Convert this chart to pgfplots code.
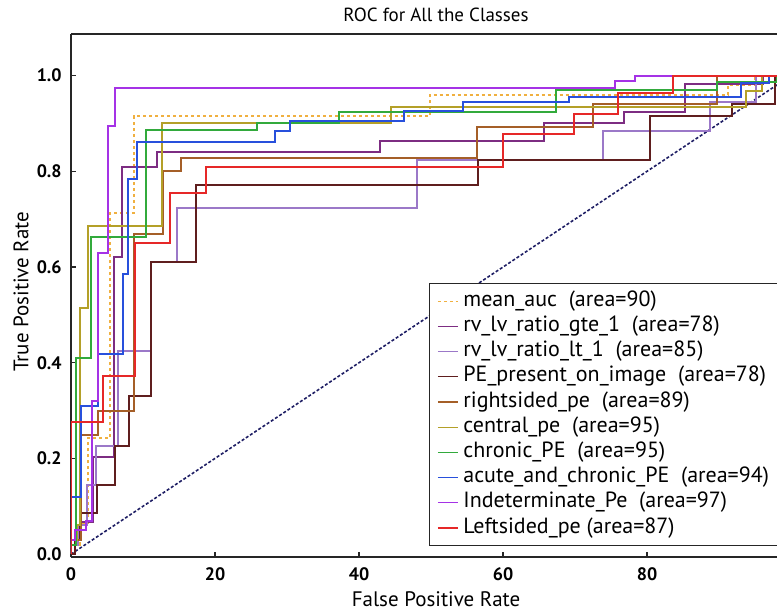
\documentclass[border=0pt]{standalone}
\usepackage{pgfplots}
\pgfplotsset{compat=1.18}
\usepackage{fontspec}
\setmainfont{PT Sans}

\definecolor{cmean}{RGB}{240,176,64}
\definecolor{cgte}{RGB}{125,45,130}
\definecolor{clt}{RGB}{155,120,200}
\definecolor{cpres}{RGB}{95,30,30}
\definecolor{cright}{RGB}{165,95,40}
\definecolor{ccentral}{RGB}{180,160,40}
\definecolor{cchronic}{RGB}{50,170,60}
\definecolor{cacute}{RGB}{40,80,220}
\definecolor{cindet}{RGB}{165,50,230}
\definecolor{cleft}{RGB}{230,40,40}
\definecolor{cdiag}{RGB}{30,30,100}

\begin{document}
\begin{tikzpicture}
\useasboundingbox (-35.5pt,-27.5pt) rectangle (353pt,278.5pt);
\begin{axis}[
  at={(0,0)}, anchor=south west,
  width=353pt, height=261.5pt, scale only axis,
  xmin=0, xmax=98.05, ymin=-0.006, ymax=1.087,
  axis x line=box, axis y line=left,
  axis line style={-, line width=0.8pt, black!85},
  xtick={0,20,40,60,80}, ytick={0,0.2,0.4,0.6,0.8,1.0},
  xtick pos=bottom, ytick pos=left,
  tick align=inside, major tick length=2.5pt,
  tick style={line width=0.6pt, black!85},
  /pgf/number format/assume math mode=true,
  ticklabel style={font=\fontsize{9}{10}\selectfont\bfseries},
  xticklabel style={anchor=base, yshift=-11.5pt},
  yticklabel style={anchor=east, inner sep=0pt, xshift=-4.5pt,
    /pgf/number format/fixed, /pgf/number format/fixed zerofill,
    /pgf/number format/precision=1},
  title={ROC for All the Classes},
  every axis title shift=0pt,
  title style={at={(axis description cs:0.517,1.023)}, anchor=base, yshift=0pt,
    font=\fontsize{9.5}{11}\selectfont},
  xlabel={False Positive Rate},
  ylabel={True Positive Rate},
  label style={font=\fontsize{10.5}{12}\selectfont},
  xlabel style={at={(axis description cs:0.517,-0.0937)}, anchor=base},
  ylabel style={at={(axis description cs:-0.0708,0.507)}, anchor=center},
  every axis plot/.append style={line width=1pt},
  legend cell align=left,
  legend image code/.code={\draw[#1, line width=0.6pt] (0pt,0pt) -- (10pt,0pt);},
  legend style={at={(axis description cs:0.5071,0.5239)}, anchor=north west,
    draw=black!85, line width=0.6pt, fill=white,
    inner xsep=3.8pt, inner ysep=2.5pt, row sep=0pt,
    font=\fontsize{11}{12}\selectfont,
    nodes={inner xsep=2.5pt, inner ysep=0.5pt, text height=8.3pt, text depth=3.3pt}},
]
\addplot[cdiag, line width=0.8pt, dash pattern=on 1.5pt off 1pt, forget plot] coordinates {(0,0) (100,1)};

\addplot[cmean, dash pattern=on 1.5pt off 1.5pt] coordinates {
  (0,0)(0,0.02)(1.2,0.02)(1.2,0.065)(2.4,0.065)(2.4,0.242)(5.4,0.242)(5.4,0.713)
  (8.7,0.713)(8.7,0.915)(49.8,0.915)(49.8,0.96)(91.2,0.96)(91.2,0.98)(95,0.98)(95,1)(100,1)};
\addlegendentry{mean\_auc\ \ (area=90)}

\addplot[cgte] coordinates {
  (0,0)(0.5,0)(0.5,0.035)(1.2,0.035)(1.2,0.067)(3.1,0.067)(3.1,0.203)(6.0,0.203)
  (6.0,0.62)(7.1,0.62)(7.1,0.81)(11.9,0.81)(11.9,0.84)(42.9,0.84)(42.9,0.8625)
  (65.7,0.8625)(65.7,0.902)(76.8,0.902)(76.8,0.924)(85.3,0.924)(85.3,0.982)
  (96.1,0.982)(96.1,1)(100,1)};
\addlegendentry{rv\_lv\_ratio\_gte\_1\ \ (area=78)}

\addplot[clt] coordinates {
  (0,0)(0,0.02)(1,0.02)(1,0.06)(2.2,0.06)(2.2,0.144)(3.5,0.144)(3.5,0.227)
  (6.5,0.227)(6.5,0.424)(11.1,0.424)(11.1,0.61)(14.7,0.61)(14.7,0.724)(48.0,0.724)
  (48.0,0.823)(73.9,0.823)(73.9,0.885)(88.7,0.885)(88.7,0.944)(95.2,0.944)(95.2,1)(100,1)};
\addlegendentry{rv\_lv\_ratio\_lt\_1\ \ (area=85)}

\addplot[cpres] coordinates {
  (0,0)(0.6,0)(0.6,0.03)(1.3,0.03)(1.3,0.086)(3.6,0.086)(3.6,0.144)(6.1,0.144)
  (6.1,0.226)(8.0,0.226)(8.0,0.33)(11.1,0.33)(11.1,0.61)(17.4,0.61)(17.4,0.771)
  (56.5,0.771)(56.5,0.823)(80.4,0.823)(80.4,0.915)(91.8,0.915)(91.8,0.94)
  (97.8,0.94)(97.8,1)(100,1)};
\addlegendentry{PE\_present\_on\_image\ \ (area=78)}

\addplot[cright] coordinates {
  (0,0)(0,0.03)(1.4,0.03)(1.4,0.248)(3.7,0.248)(3.7,0.30)(8.7,0.30)(8.7,0.67)
  (12.8,0.67)(12.8,0.80)(15.3,0.80)(15.3,0.828)(56.4,0.828)(56.4,0.892)
  (72.5,0.892)(72.5,0.941)(89.7,0.941)(89.7,1)(100,1)};
\addlegendentry{rightsided\_pe\ \ (area=89)}

\addplot[ccentral] coordinates {
  (0,0)(0,0.03)(0.8,0.03)(0.8,0.06)(1.3,0.06)(1.3,0.515)(2.4,0.515)(2.4,0.685)
  (12.7,0.685)(12.7,0.90)(44.4,0.90)(44.4,0.934)(93.8,0.934)(93.8,0.968)
  (96,0.968)(96,1)(100,1)};
\addlegendentry{central\_pe\ \ (area=95)}

\addplot[cchronic] coordinates {
  (0,0)(0,0.02)(0.7,0.02)(0.7,0.41)(2.8,0.41)(2.8,0.663)(10.4,0.663)(10.4,0.887)
  (25.9,0.887)(25.9,0.90)(37.2,0.90)(37.2,0.924)(67.4,0.924)(67.4,0.97)
  (89.7,0.97)(89.7,0.987)(98,0.987)(98,1)(100,1)};
\addlegendentry{chronic\_PE\ \ (area=95)}

\addplot[cacute] coordinates {
  (0,0)(0,0.12)(1.4,0.12)(1.4,0.31)(3.7,0.31)(3.7,0.418)(7.2,0.418)(7.2,0.585)
  (7.9,0.585)(7.9,0.785)(9.1,0.785)(9.1,0.861)(28.3,0.861)(28.3,0.885)(30.4,0.885)
  (30.4,0.906)(46.3,0.906)(46.3,0.927)(54.4,0.927)(54.4,0.944)(69.1,0.944)
  (69.1,0.956)(93.1,0.956)(93.1,0.984)(97,0.984)(97,1)(100,1)};
\addlegendentry{acute\_and\_chronic\_PE\ \ (area=94)}

\addplot[cindet] coordinates {
  (0,0)(0,0.03)(0.6,0.03)(0.6,0.05)(2.1,0.05)(2.1,0.07)(2.9,0.07)(2.9,0.32)
  (3.8,0.32)(3.8,0.63)(5.1,0.63)(5.1,0.894)(6.15,0.894)(6.15,0.975)(75.6,0.975)
  (75.6,0.988)(78.3,0.988)(78.3,1)(100,1)};
\addlegendentry{Indeterminate\_Pe\ \ (area=97)}

\addplot[cleft] coordinates {
  (0,0)(0,0.276)(4.4,0.276)(4.4,0.373)(8.9,0.373)(8.9,0.651)(13.8,0.651)
  (13.8,0.755)(18.7,0.755)(18.7,0.81)(60.0,0.81)(60.0,0.878)(69.8,0.878)
  (69.8,0.92)(76.0,0.92)(76.0,0.963)(83.6,0.963)(83.6,1.0)(100,1)};
\addlegendentry{Leftsided\_pe (area=87)}
\end{axis}
\end{tikzpicture}
\end{document}
